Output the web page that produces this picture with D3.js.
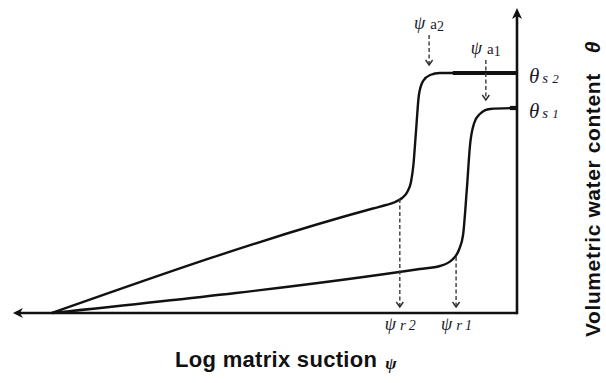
<!DOCTYPE html>
<html><head><meta charset="utf-8">
<script src="https://cdn.jsdelivr.net/npm/d3@7"></script>
<style>
html,body{margin:0;padding:0;background:#fff;}
svg{display:block;}
</style>
</head><body>
<svg id="chart" width="606" height="383"></svg>
<script>
// Suction s is in log units, measured leftward from the θ axis.
// θ is volumetric water content.
const curve1Suction = [10, 2.09, 1.66, 1.40, 1.25, 1.16, 1.08, 1.01, 0.92, 0.80, 0.58, 0];
const curve1Theta   = [0, 0.088, 0.094, 0.106, 0.126, 0.156, 0.246, 0.336, 0.380, 0.398, 0.408, 0.410];
const curve2Suction = [10, 3.10, 2.82, 2.62, 2.47, 2.36, 2.28, 2.23, 2.17, 2.11, 2.02, 1.87, 1.66, 0];
const curve2Theta   = [0, 0.209, 0.216, 0.222, 0.230, 0.242, 0.262, 0.294, 0.366, 0.436, 0.464, 0.476, 0.480, 0.480];

// saturated plateau: θs and the suction where the heavy segment starts
const satLabels   = ["1", "2"];
const thetaSat    = [0.410, 0.480];
const satSuction  = [0.15, 1.38];

// characteristic suction markers (air-entry a, residual r)
const markerKind    = ["a", "a", "r", "r"];
const markerIndex   = ["1", "2", "1", "2"];
const markerSuction = [0.67, 1.89, 1.31, 2.52];
const markerFrom    = [0.506, 0.556, 0.112, 0.228];
const markerTo      = [0.426, 0.496, 0.012, 0.012];

const svg = d3.select("#chart");
const x = d3.scaleLinear().domain([0, 10]).range([517, 52]);
const y = d3.scaleLinear().domain([0, 0.6]).range([313, 13]);
const ink = "#111";

// axes
const xEnd = x(10.84), yEnd = y(0.61);
svg.append("line").attr("x1", x(0)).attr("y1", y(0)).attr("x2", xEnd + 4).attr("y2", y(0))
  .attr("stroke", ink).attr("stroke-width", 2.5);
svg.append("line").attr("x1", x(0)).attr("y1", y(0) + 1.2).attr("x2", x(0)).attr("y2", yEnd + 4)
  .attr("stroke", ink).attr("stroke-width", 2.6);
// arrowheads
svg.append("path")
  .attr("d", `M${xEnd},${y(0)} L${xEnd + 10},${y(0) - 5} L${xEnd + 7},${y(0)} L${xEnd + 10},${y(0) + 5} Z`)
  .attr("fill", ink);
svg.append("path")
  .attr("d", `M${x(0)},${yEnd} L${x(0) - 5},${yEnd + 11} L${x(0)},${yEnd + 8} L${x(0) + 5},${yEnd + 11} Z`)
  .attr("fill", ink);

// retention curves
const line = d3.line().x(d => x(d[0])).y(d => y(d[1])).curve(d3.curveMonotoneX);
[[curve1Suction, curve1Theta], [curve2Suction, curve2Theta]].forEach(([s, t]) => {
  svg.append("path").datum(s.map((v, i) => [v, t[i]]))
    .attr("d", line).attr("fill", "none").attr("stroke", ink)
    .attr("stroke-width", 2.4).attr("stroke-linejoin", "round");
});

// heavy saturated segments and θs labels
thetaSat.forEach((th, i) => {
  svg.append("line").attr("x1", x(satSuction[i])).attr("x2", x(0))
    .attr("y1", y(th)).attr("y2", y(th))
    .attr("stroke", ink).attr("stroke-width", 4.2);
  const t = svg.append("text").attr("x", x(0) + 12).attr("y", y(th) + 10)
    .attr("font-family", "Liberation Serif").attr("font-style", "italic").attr("fill", "#1a1a2a");
  t.append("tspan").attr("font-size", 21).text("θ");
  t.append("tspan").attr("font-size", 15).attr("dx", 3).text("s");
  t.append("tspan").attr("font-size", 13).attr("dx", 4).text(satLabels[i]);
});

// dashed marker arrows with labels
markerSuction.forEach((s, i) => {
  const px = x(s), y0 = y(markerFrom[i]), y1 = y(markerTo[i]);
  svg.append("line").attr("x1", px).attr("x2", px).attr("y1", y0).attr("y2", y1 - 1)
    .attr("stroke", "#3a3a3a").attr("stroke-width", 1.4).attr("stroke-dasharray", "4,2.5");
  svg.append("path").attr("d", `M${px - 3.5},${y1 - 5} L${px},${y1} L${px + 3.5},${y1 - 5}`)
    .attr("fill", "none").attr("stroke", "#2a2a2a").attr("stroke-width", 1.4);
  const isA = markerKind[i] === "a";
  const ty = isA ? y0 - 6 : y(0) + 17;
  const t = svg.append("text").attr("x", px - 15).attr("y", ty)
    .attr("font-family", "Liberation Serif").attr("fill", "#1a1a2a");
  t.append("tspan").attr("font-size", 18).attr("font-style", "italic").text("ψ");
  if (isA) {
    t.append("tspan").attr("font-size", 15).attr("dx", 5).text("a");
    t.append("tspan").attr("font-size", 14).attr("dy", 1.5).text(markerIndex[i]);
  } else {
    t.append("tspan").attr("font-size", 15).attr("font-style", "italic").attr("dx", 4).text("r");
    t.append("tspan").attr("font-size", 14).attr("font-style", "italic").attr("dx", 3).text(markerIndex[i]);
  }
});

// axis titles
const xt = svg.append("text").attr("x", 175).attr("y", 367)
  .attr("font-family", "Liberation Sans").attr("font-weight", "bold").attr("font-size", 22)
  .attr("letter-spacing", 0.3).attr("fill", "#111");
xt.append("tspan").text("Log matrix suction");
xt.append("tspan").attr("dx", 8).attr("dy", 2).attr("font-family", "Liberation Serif")
  .attr("font-style", "italic").attr("font-size", 17).text("ψ");

const yt = svg.append("text").attr("transform", "translate(600,337) rotate(-90)")
  .attr("font-family", "Liberation Sans").attr("font-weight", "bold").attr("font-size", 21)
  .attr("letter-spacing", 0.6).attr("fill", "#111");
yt.append("tspan").text("Volumetric water content");
yt.append("tspan").attr("dx", 20).attr("font-style", "italic").text("θ");
</script>
</body></html>
